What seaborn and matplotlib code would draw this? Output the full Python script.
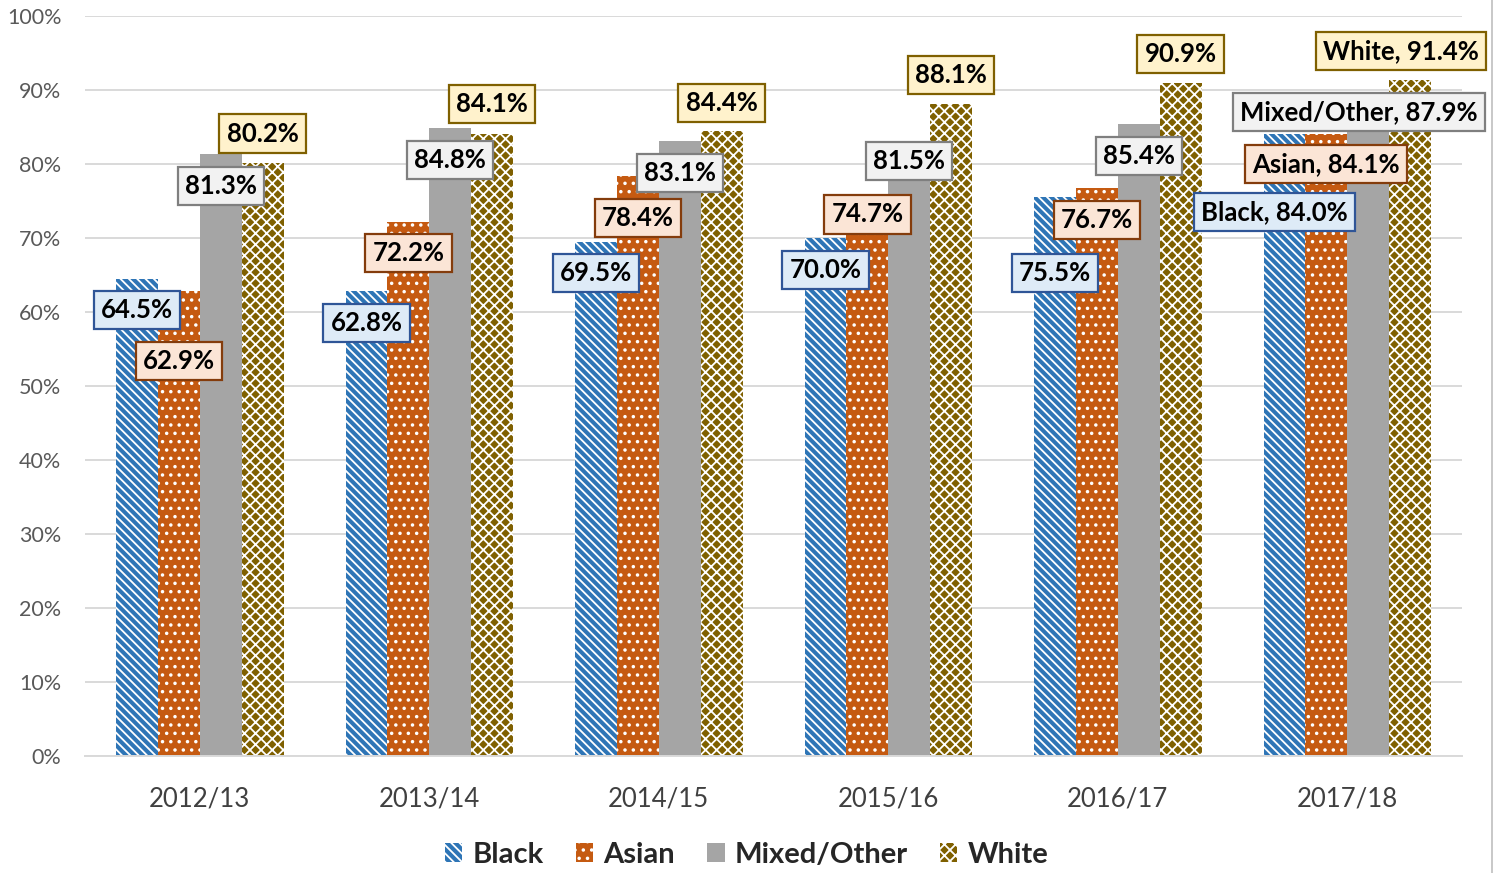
import numpy as np
import pandas as pd
import seaborn as sns
import matplotlib
matplotlib.use('Agg')
import matplotlib.pyplot as plt
from matplotlib.lines import Line2D

# data
years = ['2012/13', '2013/14', '2014/15', '2015/16', '2016/17', '2017/18']
groups = ['Black', 'Asian', 'Mixed/Other', 'White']
black = [64.5, 62.8, 69.5, 70.0, 75.5, 84.0]
asian = [62.9, 72.2, 78.4, 74.7, 76.7, 84.1]
mixed = [81.3, 84.8, 83.1, 81.5, 85.4, 87.9]
white = [80.2, 84.1, 84.4, 88.1, 90.9, 91.4]

# where the label boxes sit (y centre, in %)
black_lab_y = [60.3, 58.5, 65.3, 65.7, 65.3, 73.5]
asian_lab_y = [53.4, 68.0, 72.7, 73.2, 72.4, 80.0]
mixed_lab_y = [77.0, 80.5, 78.8, 80.4, 81.1, 87.0]
white_lab_y = [84.1, 88.1, 88.2, 92.0, 94.9, 95.3]

colors = ['#2E75B6', '#C55A11', '#A5A5A5', '#7F6000']
hatches = ['\\\\\\\\', '..', '', 'xxx']
box_face = ['#DEEBF7', '#FBE5D6', '#F2F2F2', '#FFF2CC']
box_edge = ['#2F5597', '#843C0C', '#7F7F7F', '#7F6000']

df = pd.DataFrame({
    'year': years * 4,
    'group': np.repeat(groups, len(years)),
    'value': black + asian + mixed + white,
})

sns.set_style('white')
plt.rcParams['font.family'] = ['Lato', 'DejaVu Sans']
plt.rcParams['hatch.linewidth'] = 1.3

fig = plt.figure(figsize=(15.02, 8.73), dpi=100)
ax = fig.add_axes([0.0566, 0.134, 0.9168, 0.8477])

sns.barplot(data=df, x='year', y='value', hue='group', hue_order=groups,
            palette=colors, saturation=1, width=0.73, legend=False, ax=ax)

for cont, h in zip(ax.containers, hatches):
    for p in cont.patches:
        p.set_hatch(h)
        p.set_edgecolor('white')
        p.set_linewidth(0)

ax.set_ylim(0, 100)
ax.set_xlim(-0.5, len(years) - 0.5)
ax.set_yticks(np.arange(0, 101, 10))
ax.set_yticklabels([f'{t}%' for t in range(0, 101, 10)], color='#595959', fontsize=15.5)
ax.tick_params(axis='x', labelsize=18.5, colors='#404040', pad=22, length=0)
ax.tick_params(axis='y', length=0, pad=17)
ax.set_xlabel('')
ax.set_ylabel('')
ax.yaxis.grid(True, color='#D9D9D9', lw=1.4)
ax.set_axisbelow(True)
for s in ['top', 'right', 'left']:
    ax.spines[s].set_visible(False)
ax.spines['bottom'].set_color('#D9D9D9')
ax.spines['bottom'].set_linewidth(1.4)

# data labels
series = [black, asian, mixed, white]
lab_y = [black_lab_y, asian_lab_y, mixed_lab_y, white_lab_y]
last_dx = [-0.045, 0.0, -0.04, -0.04]
for k, cont in enumerate(ax.containers):
    for i, p in enumerate(cont.patches):
        xc = p.get_x() + p.get_width() / 2
        txt = f'{series[k][i]:.1f}%'
        if i == len(years) - 1:
            txt = f'{groups[k]}, {txt}'
            xc += last_dx[k]
        ax.text(xc, lab_y[k][i], txt, ha='center', va='center',
                fontsize=18.5, fontweight='bold', color='black', clip_on=False,
                bbox=dict(boxstyle='square,pad=0.28', fc=box_face[k],
                          ec=box_edge[k], lw=1.6))

fig.legend(ax.containers, groups, loc='center', bbox_to_anchor=(0.497, 0.021),
           ncol=4, frameon=False, handlelength=0.6, handleheight=0.6,
           handletextpad=0.35, columnspacing=1.1,
           prop={'size': 21, 'weight': 'bold'})

fig.add_artist(Line2D([0.9933, 0.9933], [0, 1], color='#BFBFBF', lw=1.2))

fig.savefig('out.png', dpi=100)
